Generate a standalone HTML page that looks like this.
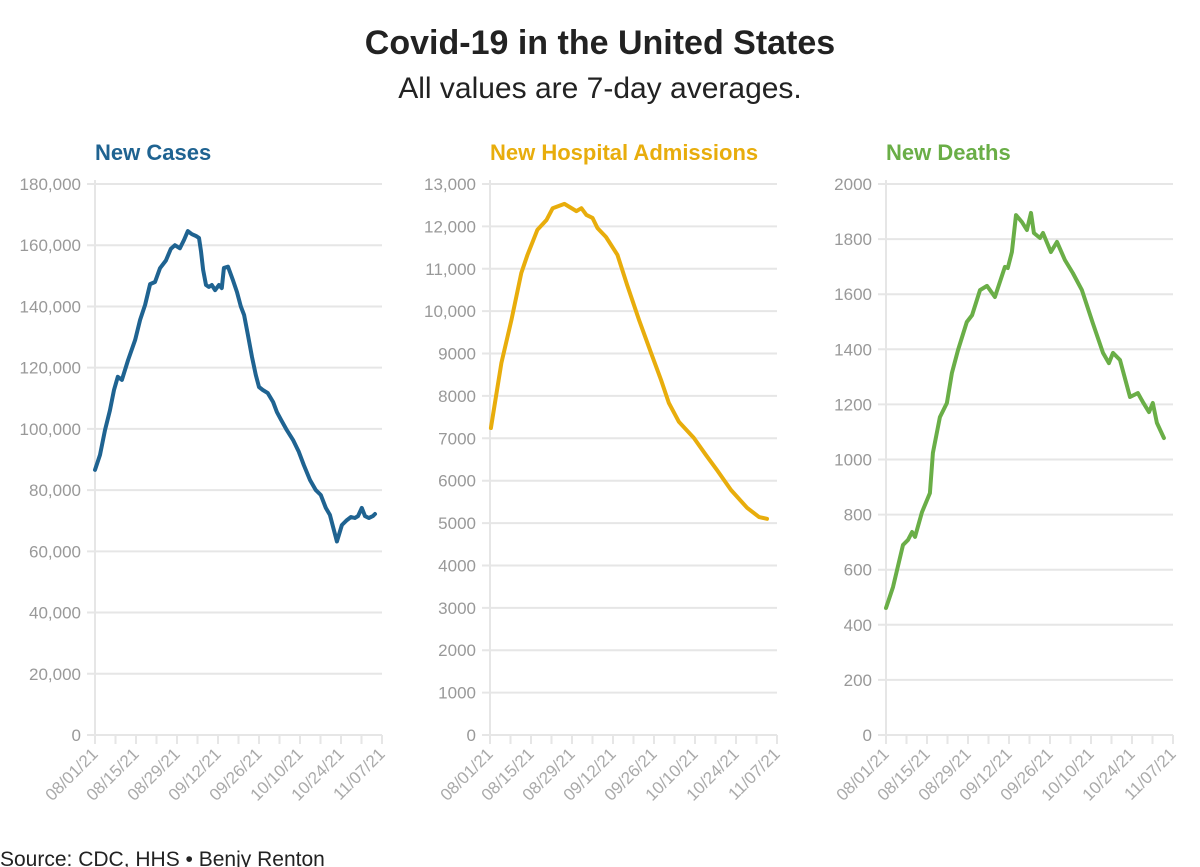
<!DOCTYPE html>
<html><head><meta charset="utf-8">
<style>
body{margin:0;background:#fff;font-family:"Liberation Sans",sans-serif;}
svg{display:block}
</style></head>
<body>
<svg id="chart" width="1200" height="867">
<text x="600" y="54" text-anchor="middle" font-size="34" font-weight="bold" fill="#222">Covid-19 in the United States</text>
<text x="600" y="98" text-anchor="middle" font-size="30" fill="#222">All values are 7-day averages.</text>
<text x="0" y="866" font-size="21" fill="#222">Source: CDC, HHS • Benjy Renton</text>
</svg>
<script>
const xTickLabels = ["08/01/21","08/15/21","08/29/21","09/12/21","09/26/21","10/10/21","10/24/21","11/07/21"];
const casesDays = [0,1.7,3.4,5.1,6.5,7.8,9.2,11.3,13.7,15.4,17.1,18.8,20.5,22.2,24.2,25.9,27.3,29,30.4,31.7,33.1,34.5,35.5,36.2,36.9,37.9,38.9,39.9,41,42.3,43.3,44,45.4,47.1,48.5,49.8,50.9,52.2,53.6,54.9,56,57.3,59,60.8,62.1,63.5,65.5,67.6,69.6,71.3,73.4,75.4,77.1,78.8,80.2,82.6,84.3,86,87.4,88.7,89.8,91.1,92.2,93.5,94.9,95.6];
const casesValues = [86600,91500,99600,106000,112700,117000,116000,122500,129000,135600,140500,147300,148000,152500,155000,158800,160000,159000,161700,164600,163600,163000,162400,158000,152000,147000,146400,147000,145300,147000,146000,152600,153000,148600,144700,140000,137200,130700,123500,117600,113700,112700,111700,108800,105500,103000,99600,96400,92500,88200,83300,80000,78400,74200,71900,63200,68600,70200,71200,70900,71500,74200,71500,70900,71500,72200];
const hospDays = [0.3,3.9,7.3,10.7,12.8,16.2,19.3,21.4,25.4,29.5,31.2,32.9,35,36.7,39.6,43.5,46.8,50.9,55,58.4,61.1,64.5,69.6,73.7,77.5,82.3,87.8,91.9,94.6];
const hospValues = [7244,8780,9790,10900,11330,11920,12150,12430,12530,12360,12430,12270,12200,11960,11750,11330,10620,9790,9010,8380,7830,7390,7010,6610,6250,5780,5360,5140,5100];
const deathDays = [0,2.4,5.8,7.5,8.9,9.9,12.3,15,16,18.4,20.8,22.5,24.6,27.6,29.4,32.1,34.5,37.2,40.6,41.6,43,44.4,46.4,48.1,49.5,50.5,52.6,53.6,56.3,58.4,61.1,63.8,66.9,70.6,74.1,76.1,77.5,79.9,83.3,86,87.7,89.8,91.1,92.5,94.9];
const deathValues = [461,537,690,708,737,719,809,878,1024,1154,1205,1314,1397,1499,1524,1615,1630,1590,1699,1695,1753,1887,1862,1833,1895,1822,1804,1822,1753,1790,1724,1677,1615,1495,1387,1350,1387,1361,1227,1241,1209,1172,1205,1133,1078];
const casesTicks = [0,20000,40000,60000,80000,100000,120000,140000,160000,180000];
const hospTicks = [0,1000,2000,3000,4000,5000,6000,7000,8000,9000,10000,11000,12000,13000];
const deathTicks = [0,200,400,600,800,1000,1200,1400,1600,1800,2000];

const NS="http://www.w3.org/2000/svg";
const svg=document.getElementById('chart');
function mk(tag,attrs,parent){const e=document.createElementNS(NS,tag);for(const k in attrs)e.setAttribute(k,attrs[k]);(parent||svg).appendChild(e);return e;}
function fmt(v,mode){
  if(mode==='comma') return v.toLocaleString('en-US');
  if(mode==='comma5') return v>=10000?v.toLocaleString('en-US'):String(v);
  return String(v);
}

function panel(name,x0,title,color,ticks,yMax,mode,days,vals){
  const g=mk('g',{});
  
  
  const yTop=184,yBot=735,xEnd=x0+287,totalDays=98;
  const xs=d=>x0+d/totalDays*(xEnd-x0);
  const ys=v=>yBot-v/yMax*(yBot-yTop);
  const t=mk('text',{x:x0,y:160,'font-size':22,'font-weight':'bold',fill:color},g);
  t.textContent=title;
  
  
  ticks.forEach(v=>{
    const y=ys(v);
    const gl=mk('line',{x1:x0-8,x2:xEnd,y1:y,y2:y,stroke:'#e6e6e6','stroke-width':2},g);
    
    
    const lb=mk('text',{x:x0-14,y:y+6,'text-anchor':'end','font-size':17,fill:'#999'},g);
    lb.textContent=fmt(v,mode);
    
    
  });
  const ax=mk('line',{x1:x0,x2:x0,y1:yTop-4,y2:yBot+8,stroke:'#e6e6e6','stroke-width':2},g);
  
  
  for(let d=0;d<=totalDays;d+=7){
    const tk=mk('line',{x1:xs(d),x2:xs(d),y1:yBot,y2:yBot+9,stroke:'#e6e6e6','stroke-width':2},g);
    
    
  }
  xTickLabels.forEach((s,i)=>{
    const x=xs(i*14),y=yBot+16;
    const lb=mk('text',{x:x+4,y:y+4,'text-anchor':'end','font-size':17,fill:'#aaa',transform:`rotate(-45 ${x+4} ${y+4})`},g);
    lb.textContent=s;
    
    
  });
  const pts=days.map((d,i)=>xs(d).toFixed(1)+','+ys(vals[i]).toFixed(1)).join(' ');
  const pl=mk('polyline',{points:pts,fill:'none',stroke:color,'stroke-width':4,'stroke-linejoin':'round','stroke-linecap':'round'},g);
  
  
}
panel('new-cases',95,'New Cases','#1f6391',casesTicks,180000,'comma',casesDays,casesValues);
panel('hospital-admissions',490,'New Hospital Admissions','#e8ad0c',hospTicks,13000,'comma5',hospDays,hospValues);
panel('new-deaths',886,'New Deaths','#6aae47',deathTicks,2000,'plain',deathDays,deathValues);
</script>
</body></html>
